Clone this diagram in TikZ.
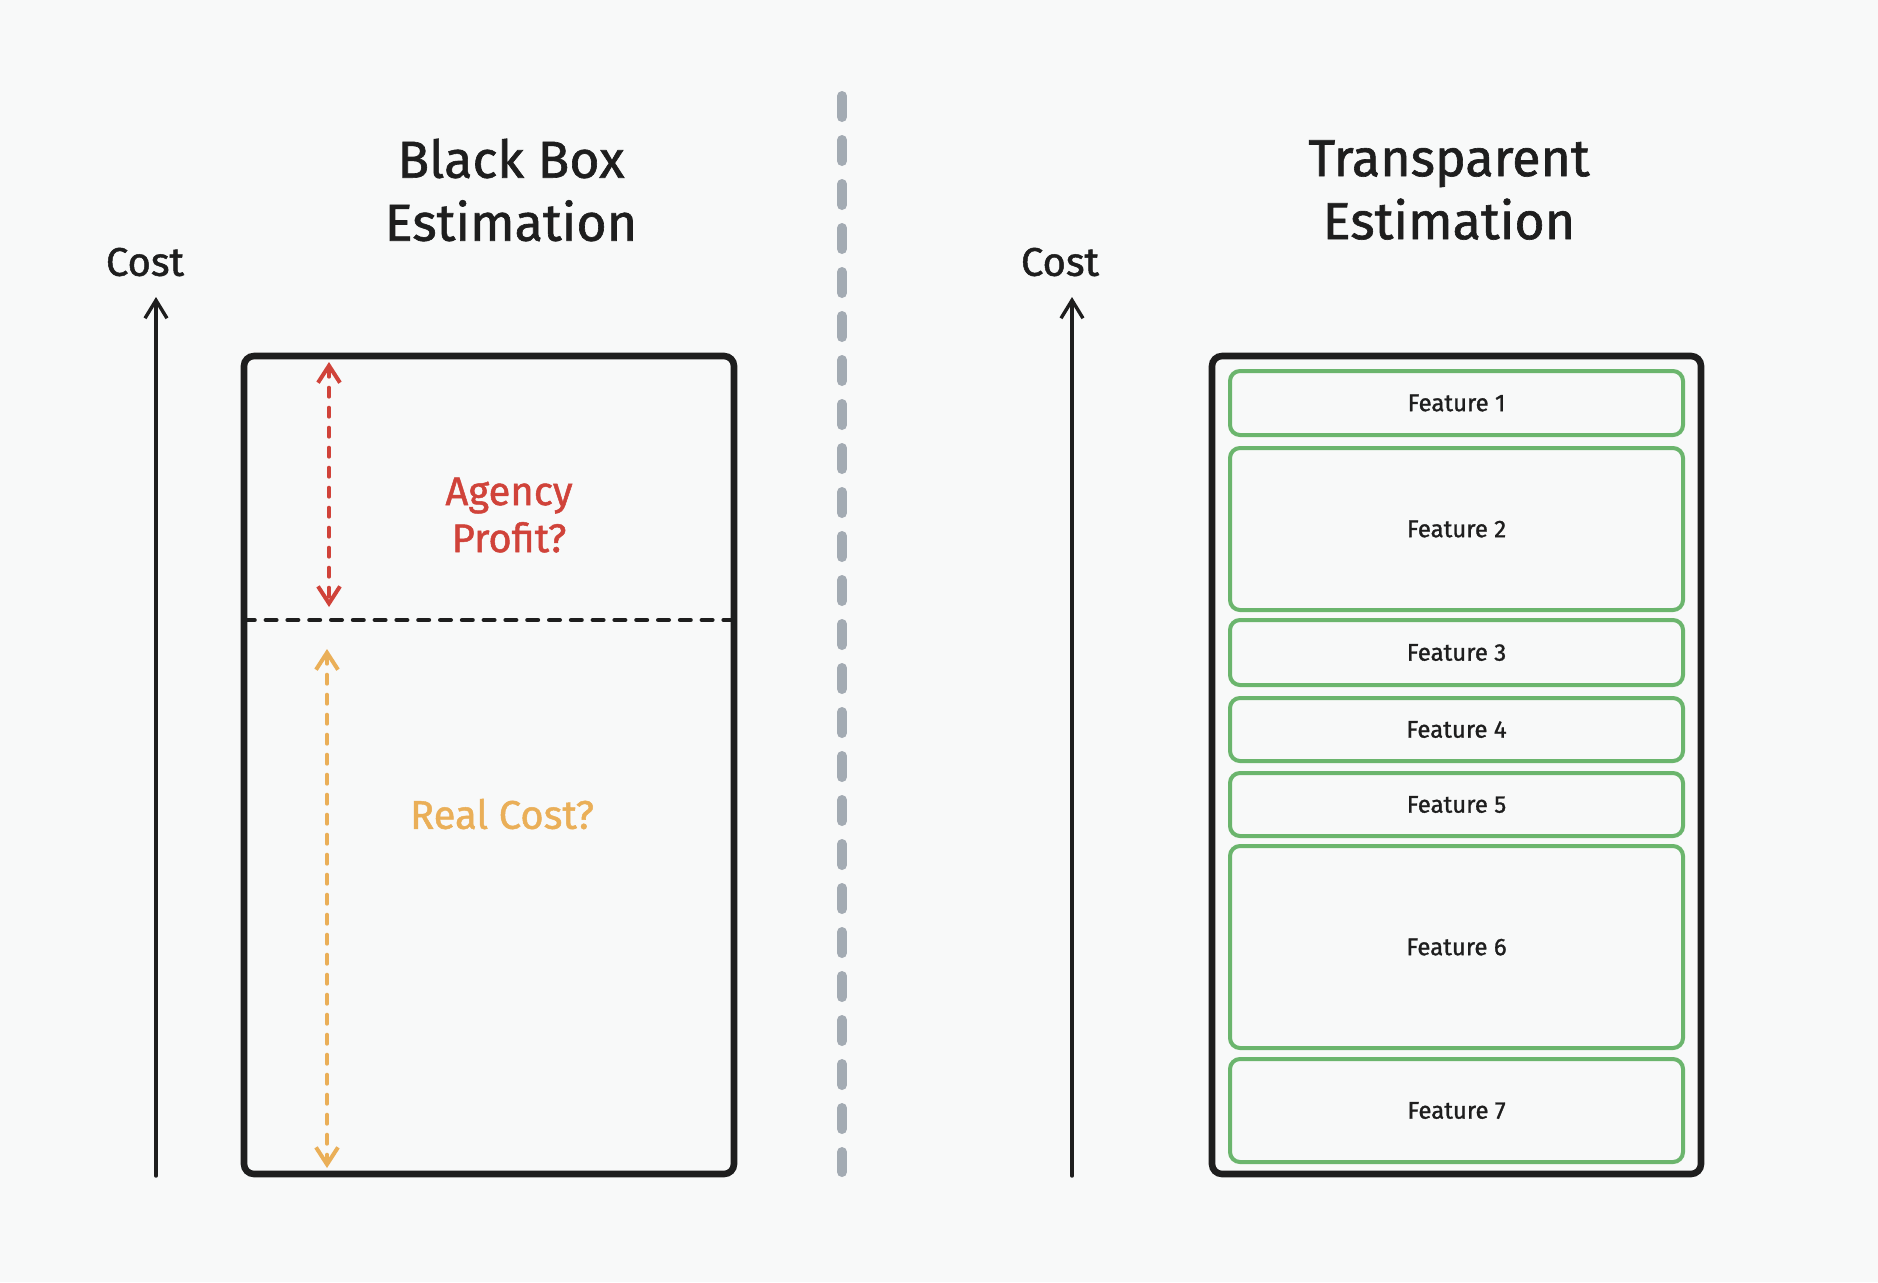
\documentclass[tikz,border=0pt]{standalone}
\usepackage{fontspec}
\setmainfont{Fira Sans}[FakeBold=1.2]
\usetikzlibrary{arrows.meta}
\definecolor{bg}{HTML}{F8F9F9}
\definecolor{ink}{HTML}{1E1E1E}
\definecolor{redc}{HTML}{D0433A}
\definecolor{orangec}{HTML}{EAAF58}
\definecolor{greenc}{HTML}{6BB56D}
\definecolor{divc}{HTML}{A3ABB3}
\tikzset{
  title/.style={font=\fontsize{26}{31.5}\selectfont, text=ink, align=center, inner sep=0pt},
  costlabel/.style={font=\fontsize{20}{24}\selectfont, text=ink, inner sep=0pt},
  bigbox/.style={draw=ink, line width=3.3pt, rounded corners=5pt, inner sep=0pt},
  featbox/.style={draw=greenc, line width=2pt, rounded corners=5pt, inner sep=0pt,
    font=\fontsize{12}{14}\selectfont, text=ink},
  axis/.style={draw=ink, line width=1.7pt, line cap=round,
    -{Straight Barb[length=9pt,width=11pt,line width=1.7pt]}},
  dimarrow/.style={line width=2pt, line cap=round, dash pattern=on 4.5pt off 5.5pt,
    {Straight Barb[length=8.5pt,width=11pt]}-{Straight Barb[length=8.5pt,width=11pt]}},
  note/.style={font=\fontsize{20}{23.5}\selectfont, align=center, inner sep=0pt},
}
\begin{document}
\begin{tikzpicture}[x=0.5pt,y=-0.5pt]
\fill[bg] (0,0) rectangle (1878,1282);
\useasboundingbox (0,0) rectangle (1878,1282);

% titles
\node[title] (t1) at (511,190) {Black Box\\Estimation};
\node[title] (t2) at (1449,190) {Transparent\\Estimation};

% cost labels
\node[costlabel] (c1) at (145,262) {Cost};
\node[costlabel] (c2) at (1060,262) {Cost};

% axes
\coordinate (a1b) at (156,1176);
\coordinate (a1t) at (156,297);
\coordinate (a2b) at (1072,1176);
\coordinate (a2t) at (1072,297);
\draw[axis] (a1b) -- (a1t);
\draw[axis] (a2b) -- (a2t);

% divider
\coordinate (dt) at (842,96);
\coordinate (db) at (842,1172);
\draw[divc, line width=5pt, line cap=round, dash pattern=on 10.5pt off 11.5pt] (dt) -- (db);

% left box
\node[bigbox, minimum width=490*0.5pt, minimum height=818*0.5pt] (lb) at (489,765) {};
\coordinate (dl) at (244,620);
\coordinate (dr) at (734,620);
\draw[ink, line width=2.2pt, line cap=round, dash pattern=on 5.3pt off 5.6pt] (dl) -- (dr);

\coordinate (r1) at (329,362);
\coordinate (r2) at (329,607);
\draw[dimarrow, redc] (r1) -- (r2);
\coordinate (o1) at (327,649);
\coordinate (o2) at (327,1168);
\draw[dimarrow, orangec] (o1) -- (o2);

\node[note, text=redc] (ap) at (509,515) {Agency\\Profit?};
\node[note, text=orangec] (rc) at (502,814) {Real Cost?};

% right box
\node[bigbox, minimum width=489*0.5pt, minimum height=818*0.5pt] (rb) at (1456.5,765) {};

\node[featbox, minimum width=453*0.5pt, minimum height=64*0.5pt] (f1) at (1456.5,403) {Feature 1};
\node[featbox, minimum width=453*0.5pt, minimum height=162*0.5pt] (f2) at (1456.5,529) {Feature 2};
\node[featbox, minimum width=453*0.5pt, minimum height=65*0.5pt] (f3) at (1456.5,652.5) {Feature 3};
\node[featbox, minimum width=453*0.5pt, minimum height=63*0.5pt] (f4) at (1456.5,729.5) {Feature 4};
\node[featbox, minimum width=453*0.5pt, minimum height=63*0.5pt] (f5) at (1456.5,804.5) {Feature 5};
\node[featbox, minimum width=453*0.5pt, minimum height=202*0.5pt] (f6) at (1456.5,947) {Feature 6};
\node[featbox, minimum width=453*0.5pt, minimum height=103*0.5pt] (f7) at (1456.5,1110.5) {Feature 7};
\end{tikzpicture}
\end{document}
